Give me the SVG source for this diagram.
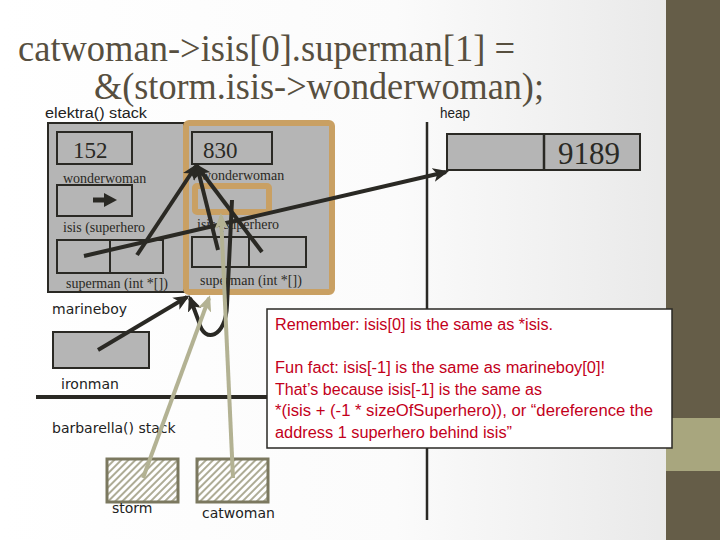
<svg xmlns="http://www.w3.org/2000/svg" width="720" height="540" viewBox="0 0 720 540">
<defs>
<linearGradient id="bg" x1="0" y1="0" x2="1" y2="0">
<stop offset="0" stop-color="#ffffff"/>
<stop offset="0.55" stop-color="#fbfbfb"/>
<stop offset="1" stop-color="#e6e6e6"/>
</linearGradient>
<pattern id="hatch" width="5" height="5" patternUnits="userSpaceOnUse" patternTransform="rotate(45)">
<rect width="5" height="5" fill="#ffffff"/>
<rect x="0" y="0" width="2" height="5" fill="#aeac96"/>
</pattern>
<marker id="ah" markerUnits="userSpaceOnUse" markerWidth="16" markerHeight="14" refX="13" refY="7" orient="auto">
<path d="M0,0 L16,7 L0,14 L4,7 z" fill="#2a2924"/>
</marker>
<marker id="ahl" markerUnits="userSpaceOnUse" markerWidth="16" markerHeight="14" refX="13" refY="7" orient="auto">
<path d="M0,0 L16,7 L0,14 L4,7 z" fill="#b3b293"/>
</marker>
<style>
.box{fill:#b5b5b5;stroke:#2a2924;stroke-width:2}
.cell{fill:none;stroke:#2a2924;stroke-width:2}
.orange{fill:none;stroke:#c9a063;stroke-width:6}
.title{font-family:"Liberation Serif",serif;font-size:38px;fill:#574f3f}
.serif{font-family:"Liberation Serif",serif;fill:#2a2924}
.lbl{font-family:"Liberation Sans",sans-serif;font-size:14px;fill:#222}
.vlbl{font-family:"DejaVu Sans",sans-serif;font-size:14px;fill:#222}
.note{font-family:"Liberation Sans","Open Sans",sans-serif;font-size:16px;fill:#c3001b}
.dk{fill:none;stroke:#2a2924;stroke-width:4;marker-end:url(#ah)}
.lt{fill:none;stroke:#b3b293;stroke-width:4;marker-end:url(#ahl)}
.hatchbox{fill:url(#hatch);stroke:#7b785f;stroke-width:3}
</style>
</defs>
<rect width="720" height="540" fill="url(#bg)"/>
<rect x="666" y="0" width="54" height="540" fill="#655d48"/>
<rect x="666" y="418" width="54" height="53" fill="#a8a67e"/>

<g id="title">
<text class="title" x="18" y="61" textLength="497" lengthAdjust="spacingAndGlyphs">catwoman-&gt;isis[0].superman[1] =</text>
<text class="title" x="94" y="99" textLength="450" lengthAdjust="spacingAndGlyphs">&amp;(storm.isis-&gt;wonderwoman);</text>
</g>

<g id="dividers">
<line x1="427" y1="122" x2="427" y2="520" stroke="#2a2924" stroke-width="2.5"/>
<line x1="36" y1="397" x2="300" y2="397" stroke="#2a2924" stroke-width="4"/>
</g>

<g id="elektra">
<text class="lbl" x="45" y="118" textLength="102" lengthAdjust="spacingAndGlyphs">elektra() stack</text>
<rect class="box" x="48" y="123" width="136" height="169"/>
<rect class="cell" x="57" y="132" width="75" height="32"/>
<text class="serif" x="73" y="158" font-size="23">152</text>
<text class="serif" x="63" y="183" font-size="14">wonderwoman</text>
<rect class="cell" x="57" y="185" width="75" height="31"/>
<path d="M93,200 L106,200" stroke="#2a2924" stroke-width="5"/>
<path d="M104,193 L117,200 L104,207 z" fill="#2a2924"/>
<text class="serif" x="63" y="232" font-size="14">isis (superhero</text>
<rect class="cell" x="57" y="240" width="53" height="33"/>
<rect class="cell" x="110" y="240" width="53" height="33"/>
<text class="serif" x="66" y="288" font-size="14">superman (int *[])</text>
</g>

<g id="isis0">
<rect x="186" y="123" width="146" height="169" rx="3" fill="#b5b5b5" stroke="#c9a063" stroke-width="6"/>
<rect class="cell" x="192" y="132" width="80" height="32"/>
<text class="serif" x="203" y="158" font-size="23">830</text>
<text class="serif" x="201" y="180" font-size="14">wonderwoman</text>
<rect class="orange" x="195" y="186" width="74" height="26" rx="2"/>
<text class="serif" x="197" y="229" font-size="14">isis (superhero</text>
<rect class="cell" x="192" y="237" width="57" height="30"/>
<rect class="cell" x="249" y="237" width="57" height="30"/>
<text class="serif" x="200" y="285" font-size="14">superman (int *[])</text>
</g>

<g id="heap">
<text class="lbl" x="440" y="118" font-size="13" textLength="30" lengthAdjust="spacingAndGlyphs">heap</text>
<rect class="box" x="447" y="134" width="193" height="36"/>
<line x1="544" y1="134" x2="544" y2="170" stroke="#2a2924" stroke-width="2.5"/>
<text class="serif" x="558" y="164" font-size="31">9189</text>
</g>

<g id="marineboy">
<text class="vlbl" x="52" y="314">marineboy</text>
</g>

<g id="ironman">
<rect class="box" x="53" y="332" width="96" height="36"/>
<text class="vlbl" x="61" y="389">ironman</text>
</g>

<g id="barbarella">
<text class="vlbl" x="52" y="433">barbarella() stack</text>
</g>

<g id="storm">
<rect class="hatchbox" x="107" y="459" width="71" height="43"/>
<text class="vlbl" x="112" y="513">storm</text>
</g>

<g id="catwoman">
<rect class="hatchbox" x="197" y="459" width="71" height="43"/>
<text class="vlbl" x="202" y="518">catwoman</text>
</g>

<g id="connectors">
<path class="dk" d="M98,350 L187,297"/>
<path class="dk" d="M84,256 L446,172"/>
<path class="dk" d="M137,255 L196,166"/>
<path class="dk" d="M218,250 L197,166"/>
<path class="dk" d="M262,252 L197,166"/>
<path class="dk" d="M232,200 L227,305 C226,338 204,344 199,322 L190,298"/>
<path class="lt" d="M143,478 L209,298"/>
<path class="lt" d="M233,478 L221,216"/>
</g>

<g id="note">
<rect x="267" y="309" width="405" height="139" fill="#ffffff" stroke="#2a2924" stroke-width="1.5"/>
<text class="note" x="275" y="330" textLength="278" lengthAdjust="spacingAndGlyphs">Remember: isis[0] is the same as *isis.</text>
<text class="note" x="275" y="373" textLength="330" lengthAdjust="spacingAndGlyphs">Fun fact: isis[-1] is the same as marineboy[0]!</text>
<text class="note" x="275" y="395" textLength="267" lengthAdjust="spacingAndGlyphs">That’s because isis[-1] is the same as</text>
<text class="note" x="275" y="416" textLength="378" lengthAdjust="spacingAndGlyphs">*(isis  + (-1 * sizeOfSuperhero)), or “dereference the</text>
<text class="note" x="275" y="438" textLength="237" lengthAdjust="spacingAndGlyphs">address 1 superhero behind isis”</text>
</g>
</svg>
